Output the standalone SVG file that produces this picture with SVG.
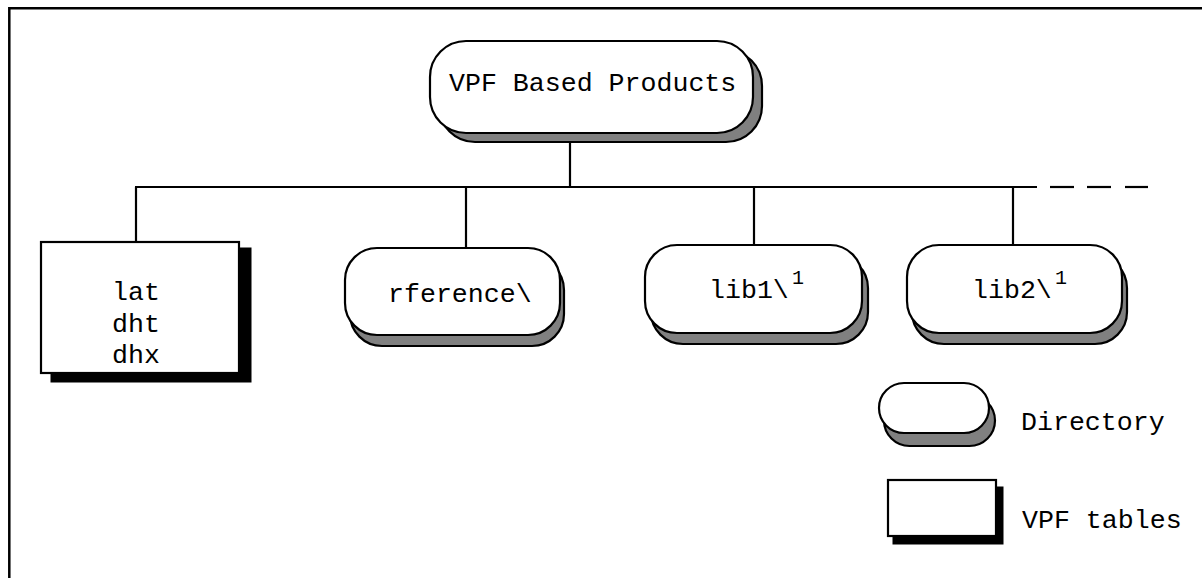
<svg xmlns="http://www.w3.org/2000/svg" width="1202" height="578" viewBox="0 0 1202 578">
<style>
.t{font-family:"Courier New","Nimbus Mono PS","FreeMono","Liberation Mono",monospace;font-size:26.6px;fill:#000}
.sup{font-family:"Courier New","Nimbus Mono PS","FreeMono","Liberation Mono",monospace;font-size:20px;fill:#000}
.box{fill:#fff;stroke:#000;stroke-width:2.2}
.sh{fill:#808080;stroke:#000;stroke-width:2.2}
.tsh{fill:#000;stroke:#000;stroke-width:1}
.ln{stroke:#000;stroke-width:2.2;fill:none}
</style>
<rect width="1202" height="578" fill="#fff"/>
<path d="M9.3,578 V8.3 H1202" fill="none" stroke="#000" stroke-width="2.5"/>
<g id="connectors" class="ln">
<line x1="570" y1="133" x2="570" y2="187"/>
<line x1="135" y1="187" x2="1037" y2="187"/>
<line x1="1050" y1="187" x2="1074" y2="187"/>
<line x1="1087" y1="187" x2="1111" y2="187"/>
<line x1="1125" y1="187" x2="1148" y2="187"/>
<line x1="136" y1="187" x2="136" y2="242"/>
<line x1="466" y1="187" x2="466" y2="248"/>
<line x1="754" y1="187" x2="754" y2="245"/>
<line x1="1013" y1="187" x2="1013" y2="245"/>
</g>
<g id="root">
<rect class="sh" x="439" y="50" width="323" height="92" rx="36"/>
<rect class="box" x="430" y="41" width="323" height="92" rx="36"/>
<text class="t" x="449" y="91">VPF Based Products</text>
</g>
<g id="tables">
<rect class="tsh" x="51" y="248" width="200" height="134"/>
<rect class="box" x="41" y="242" width="198" height="131"/>
<text class="t" x="136" y="300" text-anchor="middle">lat</text>
<text class="t" x="136" y="332" text-anchor="middle">dht</text>
<text class="t" x="136" y="363" text-anchor="middle">dhx</text>
</g>
<g id="rference">
<rect class="sh" x="350" y="258" width="214" height="88" rx="32"/>
<rect class="box" x="345" y="248" width="215" height="87" rx="32"/>
<text class="t" x="388" y="302">rference\</text>
</g>
<g id="lib1">
<rect class="sh" x="651" y="256" width="217" height="88" rx="32"/>
<rect class="box" x="645" y="245" width="217" height="88" rx="32"/>
<text class="t" x="709" y="298">lib1\</text>
<text class="sup" x="792" y="284">1</text>
</g>
<g id="lib2">
<rect class="sh" x="912" y="256" width="215" height="88" rx="32"/>
<rect class="box" x="907" y="245" width="215" height="88" rx="32"/>
<text class="t" x="972" y="298">lib2\</text>
<text class="sup" x="1055" y="284">1</text>
</g>
<g id="legend-directory">
<rect class="sh" x="884" y="395" width="111" height="51" rx="25.5"/>
<rect class="box" x="879" y="383" width="110" height="50" rx="25"/>
<text class="t" x="1021" y="430">Directory</text>
</g>
<g id="legend-tables">
<rect class="tsh" x="893" y="487" width="110" height="57"/>
<rect class="box" x="888" y="480" width="108" height="56"/>
<text class="t" x="1022" y="528">VPF tables</text>
</g>
</svg>
